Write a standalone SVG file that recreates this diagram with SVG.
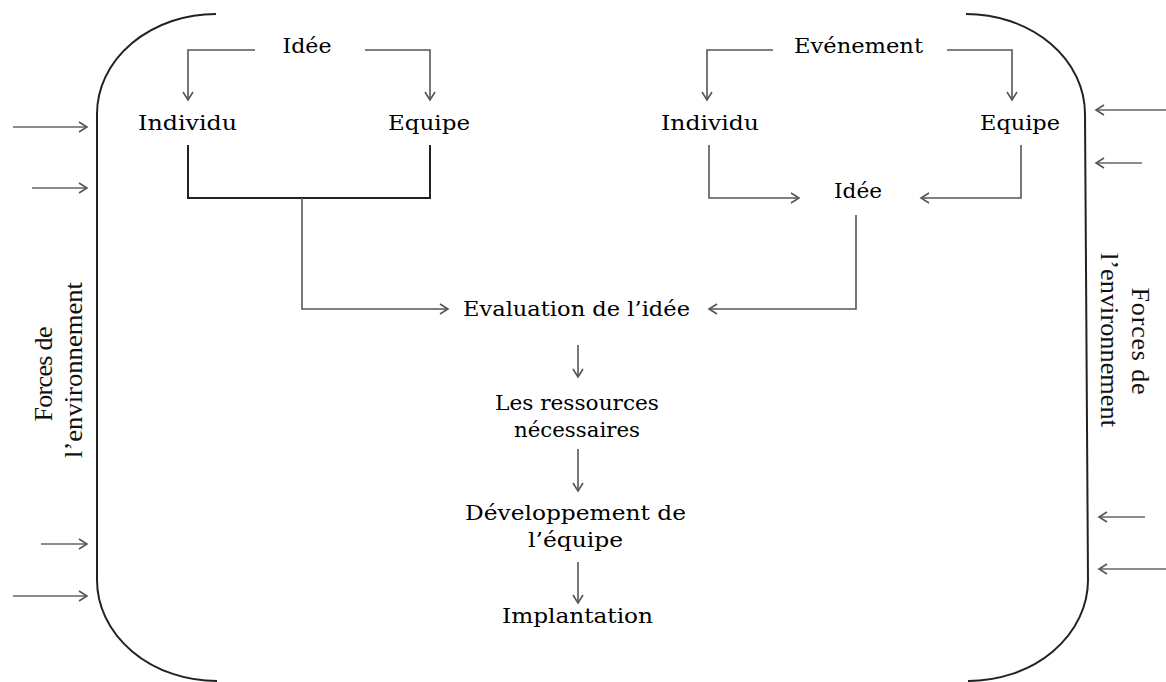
<svg xmlns="http://www.w3.org/2000/svg" width="1166" height="682" viewBox="0 0 1166 682">
<style>
.t{font-family:"DejaVu Serif","Liberation Serif",serif;font-size:21px;fill:#000;text-anchor:middle}
.s{font-family:"Liberation Serif","DejaVu Serif",serif;font-size:26px;fill:#111;text-anchor:middle}
.c{fill:none;stroke:#555;stroke-width:1.6}
.b{fill:none;stroke:#222;stroke-width:2}
.f{fill:none;stroke:#666;stroke-width:1.6}
</style>
<defs>
<marker id="ah" markerUnits="userSpaceOnUse" markerWidth="14" markerHeight="14" refX="10" refY="7" orient="auto">
<path d="M2,2 L10,7 L2,12" fill="none" stroke="#555" stroke-width="1.6"/>
</marker>
</defs>
<rect width="1166" height="682" fill="#fff"/>
<g id="frame">
<path class="b" d="M216,14 A119,100 0 0 0 97,114 L97,580 A120,101 0 0 0 217,681"/>
<path class="b" d="M966,14 A119,100 0 0 1 1085,114 L1088,580 A120,101 0 0 1 968,681"/>
</g>
<g id="forces-left">
<text class="s" transform="translate(52,374) rotate(-90)" textLength="95" lengthAdjust="spacing">Forces de</text>
<text class="s" transform="translate(82,370) rotate(-90)" textLength="176" lengthAdjust="spacingAndGlyphs">l’environnement</text>
</g>
<g id="forces-right">
<text class="s" transform="translate(1132,341) rotate(90)" textLength="107" lengthAdjust="spacing">Forces de</text>
<text class="s" transform="translate(1101,340) rotate(90)" textLength="174" lengthAdjust="spacingAndGlyphs">l’environnement</text>
</g>
<g id="idee-1"><text class="t" x="307" y="53" textLength="49" lengthAdjust="spacingAndGlyphs">Idée</text></g>
<g id="individu-1"><text class="t" x="187.5" y="130" textLength="99" lengthAdjust="spacingAndGlyphs">Individu</text></g>
<g id="equipe-1"><text class="t" x="429" y="130" textLength="82" lengthAdjust="spacingAndGlyphs">Equipe</text></g>
<g id="evenement"><text class="t" x="858.5" y="53" textLength="129" lengthAdjust="spacingAndGlyphs">Evénement</text></g>
<g id="individu-2"><text class="t" x="710" y="130" textLength="98" lengthAdjust="spacingAndGlyphs">Individu</text></g>
<g id="equipe-2"><text class="t" x="1020" y="130" textLength="80" lengthAdjust="spacingAndGlyphs">Equipe</text></g>
<g id="idee-2"><text class="t" x="858" y="198" textLength="48" lengthAdjust="spacingAndGlyphs">Idée</text></g>
<g id="evaluation"><text class="t" x="576.5" y="316" textLength="227" lengthAdjust="spacingAndGlyphs">Evaluation de l’idée</text></g>
<g id="ressources">
<text class="t" x="577" y="410" textLength="164" lengthAdjust="spacingAndGlyphs">Les ressources</text>
<text class="t" x="577" y="437" textLength="126" lengthAdjust="spacingAndGlyphs">nécessaires</text>
</g>
<g id="developpement">
<text class="t" x="575.5" y="520" textLength="221" lengthAdjust="spacingAndGlyphs">Développement de</text>
<text class="t" x="575.5" y="547" textLength="95" lengthAdjust="spacingAndGlyphs">l’équipe</text>
</g>
<g id="implantation"><text class="t" x="577.5" y="623" textLength="151" lengthAdjust="spacingAndGlyphs">Implantation</text></g>
<g id="connectors">
<polyline class="c" points="255,50 188,50 188,100" marker-end="url(#ah)"/>
<polyline class="c" points="365,50 430,50 430,100" marker-end="url(#ah)"/>
<polyline class="b" points="188,145 188,198 430,198 430,145"/>
<polyline class="c" points="302,198 302,309 448,309" marker-end="url(#ah)"/>
<polyline class="c" points="773,50 707,50 707,100" marker-end="url(#ah)"/>
<polyline class="c" points="947,50 1012,50 1012,100" marker-end="url(#ah)"/>
<polyline class="c" points="709,145 709,198 799,198" marker-end="url(#ah)"/>
<polyline class="c" points="1021,145 1021,198 921,198" marker-end="url(#ah)"/>
<polyline class="c" points="856,215 856,309 709,309" marker-end="url(#ah)"/>
<line class="c" x1="578" y1="345" x2="578" y2="377" marker-end="url(#ah)"/>
<line class="c" x1="578" y1="449" x2="578" y2="491" marker-end="url(#ah)"/>
<line class="c" x1="578" y1="562" x2="578" y2="603" marker-end="url(#ah)"/>
<line class="f" x1="13" y1="127" x2="87" y2="127" marker-end="url(#ah)"/>
<line class="f" x1="32" y1="188" x2="87" y2="188" marker-end="url(#ah)"/>
<line class="f" x1="41" y1="544" x2="87" y2="544" marker-end="url(#ah)"/>
<line class="f" x1="13" y1="596" x2="87" y2="596" marker-end="url(#ah)"/>
<line class="f" x1="1166" y1="110" x2="1096" y2="110" marker-end="url(#ah)"/>
<line class="f" x1="1142" y1="163" x2="1096" y2="163" marker-end="url(#ah)"/>
<line class="f" x1="1145" y1="517" x2="1099" y2="517" marker-end="url(#ah)"/>
<line class="f" x1="1166" y1="569" x2="1099" y2="569" marker-end="url(#ah)"/>
</g>
</svg>
